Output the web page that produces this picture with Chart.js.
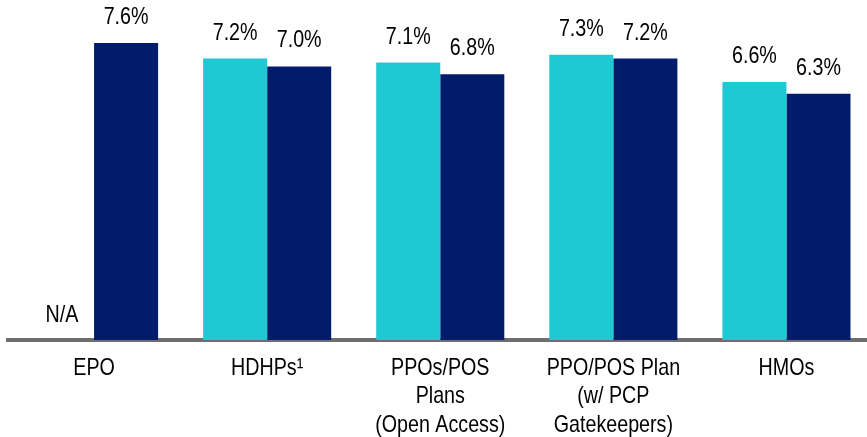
<!DOCTYPE html>
<html>
<head>
<meta charset="utf-8">
<script src="https://cdn.jsdelivr.net/npm/chart.js@4/dist/chart.umd.min.js"></script>
<style>
  html, body { margin: 0; padding: 0; background: #fff; overflow: hidden; }
  #wrap { width: 874px; height: 437px; }
</style>
</head>
<body>
<div id="wrap"><canvas id="chart" width="874" height="437"></canvas></div>
<script>
// plan types along the bottom
const categories = [
    'EPO',
    'HDHPs\u00B9',
    ['PPOs/POS', 'Plans', '(Open Access)'],
    ['PPO/POS Plan', '(w/ PCP', 'Gatekeepers)'],
    'HMOs'
];
// percentage values, light series (EPO has no value)
const lightValues = [null, 7.2, 7.1, 7.3, 6.6];
// percentage values, dark series
const darkValues = [7.6, 7.0, 6.8, 7.2, 6.3];

const FONT = '"Liberation Sans", Arial, sans-serif';

// the original uses a narrow face; squeeze all canvas text horizontally
const narrowText = {
    id: 'narrowText',
    beforeDraw(chart) {
        const ctx = chart.ctx;
        const fill = CanvasRenderingContext2D.prototype.fillText;
        ctx.fillText = function (text, x, y) {
            this.save();
            this.translate(x, y);
            this.scale(0.82, 1);
            fill.call(this, text, 0, 0);
            this.restore();
        };
    },
    afterDraw(chart) {
        delete chart.ctx.fillText;
    }
};

const valueLabels = {
    id: 'valueLabels',
    afterDatasetsDraw(chart) {
        const ctx = chart.ctx;
        const bottom = chart.chartArea.bottom;
        ctx.save();
        ctx.font = '24px ' + FONT;
        ctx.fillStyle = '#000';
        ctx.textAlign = 'center';
        ctx.textBaseline = 'alphabetic';
        chart.data.datasets.forEach((ds, di) => {
            const meta = chart.getDatasetMeta(di);
            meta.data.forEach((bar, i) => {
                const v = ds.data[i];
                if (v === null) {
                    ctx.fillText('N/A', bar.x, bottom - 18);
                } else {
                    ctx.fillText(v.toFixed(1) + '%', bar.x, bar.y - 19);
                }
            });
        });
        ctx.restore();
    }
};

new Chart(document.getElementById('chart').getContext('2d'), {
    type: 'bar',
    data: {
        labels: categories,
        datasets: [
            { data: lightValues, backgroundColor: '#1fc9d3', categoryPercentage: 0.74, barPercentage: 1 },
            { data: darkValues, backgroundColor: '#001c6b', categoryPercentage: 0.74, barPercentage: 1 }
        ]
    },
    options: {
        responsive: false,
        animation: false,
        layout: { padding: { left: 7.5, right: 1, top: 0, bottom: 0 } },
        plugins: { legend: { display: false }, tooltip: { enabled: false } },
        scales: {
            x: {
                grid: { display: false, drawTicks: false },
                border: { display: true, color: '#6e6e6e', width: 4 },
                ticks: {
                    color: '#000',
                    padding: 14,
                    maxRotation: 0,
                    autoSkip: false,
                    font: { family: FONT, size: 24, lineHeight: 1.19 }
                },
                afterFit(scale) { scale.height = 97; }
            },
            y: {
                display: false,
                min: 0,
                max: 8.7
            }
        }
    },
    plugins: [narrowText, valueLabels]
});
</script>
</body>
</html>
